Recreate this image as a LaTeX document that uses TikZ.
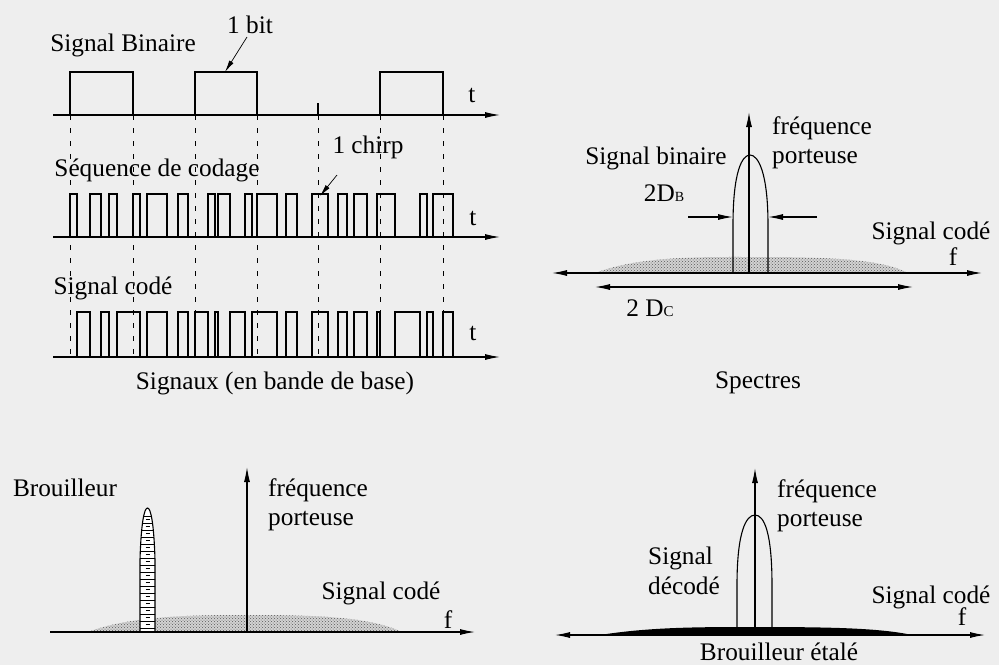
\documentclass[tikz,border=0pt]{standalone}
\usepackage{fontspec}
\setmainfont{Liberation Serif}
\usetikzlibrary{arrows.meta,patterns}
\definecolor{bg}{RGB}{238,238,238}
\begin{document}
\begin{tikzpicture}[x=1pt,y=-1pt,
  sig/.style={line width=1.1pt},
  ax/.style={line width=1.1pt,-{Latex[length=15pt,width=6pt]}},
  dax/.style={line width=1.1pt,{Latex[length=15pt,width=6pt]}-{Latex[length=15pt,width=6pt]}},
  ptr/.style={line width=0.7pt,-{Latex[length=12pt,width=5pt]}},
  vl/.style={line width=0.9pt,dash pattern=on 5pt off 8pt},
  lbl/.style={font=\fontsize{25.3}{29.5}\selectfont,inner sep=0pt},
  dotsfill/.style={preaction={fill=gray!35},pattern=crosshatch dots,pattern color=black!65}]
\fill[bg] (0,0) rectangle (999,665);
\useasboundingbox (0,0) rectangle (999,665);

% ---------------- left: signals ----------------
% dashed bit boundaries
\foreach \x in {70,133,195,257,318,380,443}
  \draw[vl] (\x,115) -- (\x,357);
\draw[sig] (318,103) -- (318,115);

% binary signal
\foreach \a/\b in {70/133,195/257,380/443}
  \draw[sig] (\a,115) -- (\a,72) -- (\b,72) -- (\b,115);
% coding sequence
\foreach \a/\b in {70/77,90/101,109/117,133/140,147/167,178/188,208/215,218/230,245/252,257/277,286/297,312/328,338/347,354/367,377/395,420/427,433/453}
  \draw[sig] (\a,237) -- (\a,194) -- (\b,194) -- (\b,237);
% coded signal
\foreach \a/\b in {77/90,101/109,117/140,147/167,178/188,195/208,215/218,230/245,252/277,286/297,312/328,338/347,354/367,377/380,395/420,427/433,443/453}
  \draw[sig] (\a,357) -- (\a,312) -- (\b,312) -- (\b,357);

% axes
\coordinate (a1s) at (53,115); \coordinate (a1e) at (500,115);
\coordinate (a2s) at (53,237); \coordinate (a2e) at (500,237);
\coordinate (a3s) at (53,357); \coordinate (a3e) at (500,357);
\draw[ax] (a1s) -- (a1e);
\draw[ax] (a2s) -- (a2e);
\draw[ax] (a3s) -- (a3e);

\node[lbl] (sb) at (123,45) {Signal Binaire};
\node[lbl] (bit) at (250,25) {1 bit};
\node[lbl] (t1) at (472,95) {t};
\node[lbl] (sq) at (157,170) {Séquence de codage};
\node[lbl] (chirp) at (368,147) {1 chirp};
\node[lbl] (t2) at (473,218) {t};
\node[lbl] (sc) at (113,288) {Signal codé};
\node[lbl] (t3) at (473,333) {t};
\node[lbl] (sig) at (275,383) {Signaux (en bande de base)};

\coordinate (bitfrom) at (247,37); \coordinate (bittip) at (225,72);
\draw[ptr] (bitfrom) -- (bittip);
\coordinate (chfrom) at (337,175); \coordinate (chtip) at (320,196);
\draw[ptr] (chfrom) -- (chtip);

% ---------------- right top: spectrum ----------------
\fill[dotsfill] (595,273) .. controls (640,256) and (700,257) .. (750,257)
  .. controls (820,257) and (880,258) .. (908,273) -- cycle;
\draw[sig] (733,273) -- (733,225) .. controls (733,172) and (742,155) .. (750,155)
  .. controls (758,155) and (768,172) .. (768,225) -- (768,273);
\coordinate (r1l) at (552,273); \coordinate (r1r) at (982,273);
\draw[dax] (r1l) -- (r1r);
\coordinate (v1b) at (749,273); \coordinate (v1t) at (749,112);
\draw[ax] (v1b) -- (v1t);
% 2DB
\coordinate (dbl) at (688,217); \coordinate (dbli) at (733,217);
\coordinate (dbr) at (817,217); \coordinate (dbri) at (768,217);
\draw[ax] (dbl) -- (dbli);
\draw[ax] (dbr) -- (dbri);
% 2Dc
\coordinate (dcl) at (595,287); \coordinate (dcr) at (913,287);
\draw[dax] (dcl) -- (dcr);

\node[lbl] (sbin) at (656,158) {Signal binaire};
\node[lbl,align=left,anchor=west] (fp1) at (772,143) {fréquence\\porteuse};
\node[lbl] (db) at (664,193) {2D{\fontsize{14}{14}\selectfont B}};
\node[lbl] (scr) at (931,233) {Signal codé};
\node[lbl] (f1) at (953,257) {f};
\node[lbl] (dc) at (650,308) {2 D{\fontsize{15}{15}\selectfont C}};
\node[lbl] (spec) at (758,383) {Spectres};

% ---------------- bottom left ----------------
\fill[dotsfill] (88,632) .. controls (130,616) and (190,615) .. (247,615)
  .. controls (320,615) and (370,617) .. (402,632) -- cycle;
\fill[white] (140,632) -- (140,560) .. controls (141,525) and (144,508) .. (147.5,508)
  .. controls (151,508) and (154,525) .. (155,560) -- (155,632) -- cycle;
\begin{scope}
  \clip (140,632) -- (140,560) .. controls (141,525) and (144,508) .. (147.5,508)
    .. controls (151,508) and (154,525) .. (155,560) -- (155,632) -- cycle;
  \foreach \y in {516,523,...,632} \draw[line width=0.7pt] (130,\y) -- (165,\y);
  \foreach \y in {519.5,526.5,...,628} \draw[line width=1.2pt] (145.5,\y) -- (149.5,\y);
\end{scope}
\draw[sig] (140,632) -- (140,560) .. controls (141,525) and (144,508) .. (147.5,508)
  .. controls (151,508) and (154,525) .. (155,560) -- (155,632);
\coordinate (b1l) at (50,632); \coordinate (b1r) at (475,632);
\draw[ax] (b1l) -- (b1r);
\coordinate (v2b) at (247,632); \coordinate (v2t) at (247,467);
\draw[ax] (v2b) -- (v2t);

\node[lbl] (br) at (65,488) {Brouilleur};
\node[lbl,align=left,anchor=west] (fp2) at (268,505) {fréquence\\porteuse};
\node[lbl] (scb) at (381,593) {Signal codé};
\node[lbl] (f2) at (448,620) {f};

% ---------------- bottom right ----------------
\fill[black] (600,635) .. controls (650,627) and (700,627) .. (755,627)
  .. controls (830,627) and (880,628) .. (912,635) -- cycle;
\draw[sig] (737,635) -- (737,585) .. controls (737,532) and (746,515) .. (755,515)
  .. controls (764,515) and (772,532) .. (772,585) -- (772,635);
\coordinate (b2l) at (555,635); \coordinate (b2r) at (985,635);
\draw[dax] (b2l) -- (b2r);
\coordinate (v3b) at (755,635); \coordinate (v3t) at (755,468);
\draw[ax] (v3b) -- (v3t);

\node[lbl,align=left,anchor=west] (fp3) at (777,506) {fréquence\\porteuse};
\node[lbl,align=left,anchor=west] (sd) at (648,571) {Signal\\décodé};
\node[lbl] (scd) at (931,597) {Signal codé};
\node[lbl] (f3) at (962,617) {f};
\node[lbl,anchor=base] (be) at (779,660) {Brouilleur étalé};
\end{tikzpicture}
\end{document}
